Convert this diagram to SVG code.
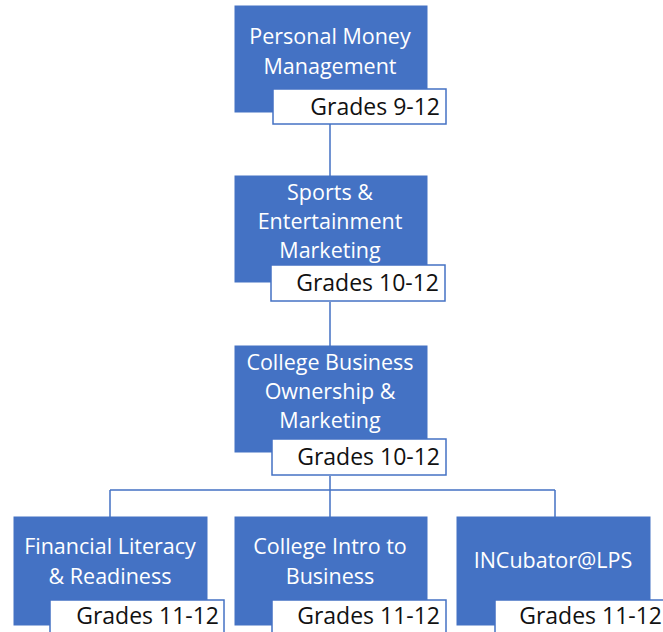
<svg xmlns="http://www.w3.org/2000/svg" width="663" height="632" viewBox="0 0 663 632">
<style>
.box{fill:#4472C4;stroke:#4472C4;stroke-width:1}
.lab{fill:#ffffff;stroke:#4472C4;stroke-width:1.5}
.t{font-family:"Open Sans","Liberation Sans",sans-serif;font-size:21.5px;fill:#ffffff;text-anchor:middle}
.g{font-family:"Open Sans","Liberation Sans",sans-serif;font-size:23px;fill:#111111;text-anchor:end}
.c{fill:none;stroke:#4472C4;stroke-width:1.5}
</style>
<rect width="663" height="632" fill="#ffffff"/>
<g id="connectors">
<path class="c" d="M330 124V176M330 302V346M330 476V490M110 490H555M110 490V517M330 490V517M555 490V517"/>
</g>
<g id="n1">
<rect class="box" x="235" y="6" width="192" height="106"/>
<text class="t" x="330" y="44">Personal Money</text>
<text class="t" x="330" y="74">Management</text>
<rect class="lab" x="273" y="89" width="173" height="35"/>
<text class="g" x="440" y="115">Grades 9-12</text>
</g>
<g id="n2">
<rect class="box" x="235" y="176" width="192" height="106"/>
<text class="t" x="330" y="200">Sports &amp;</text>
<text class="t" x="330" y="229">Entertainment</text>
<text class="t" x="330" y="258">Marketing</text>
<rect class="lab" x="271" y="265" width="174" height="36"/>
<text class="g" x="439" y="291">Grades 10-12</text>
</g>
<g id="n3">
<rect class="box" x="235" y="346" width="192" height="106"/>
<text class="t" x="330" y="370">College Business</text>
<text class="t" x="330" y="399">Ownership &amp;</text>
<text class="t" x="330" y="428">Marketing</text>
<rect class="lab" x="272" y="439" width="174" height="36"/>
<text class="g" x="440" y="465">Grades 10-12</text>
</g>
<g id="n4">
<rect class="box" x="14" y="517" width="193" height="108"/>
<text class="t" x="110" y="554">Financial Literacy</text>
<text class="t" x="110" y="584">&amp; Readiness</text>
<rect class="lab" x="50" y="600" width="174" height="40"/>
<text class="g" x="219" y="624">Grades 11-12</text>
</g>
<g id="n5">
<rect class="box" x="235" y="517" width="192" height="108"/>
<text class="t" x="330" y="554">College Intro to</text>
<text class="t" x="330" y="584">Business</text>
<rect class="lab" x="272" y="600" width="174" height="40"/>
<text class="g" x="440" y="624">Grades 11-12</text>
</g>
<g id="n6">
<rect class="box" x="457" y="517" width="193" height="108"/>
<text class="t" x="553" y="568">INCubator@LPS</text>
<rect class="lab" x="495" y="600" width="174" height="40"/>
<text class="g" x="662" y="624">Grades 11-12</text>
</g>
</svg>
